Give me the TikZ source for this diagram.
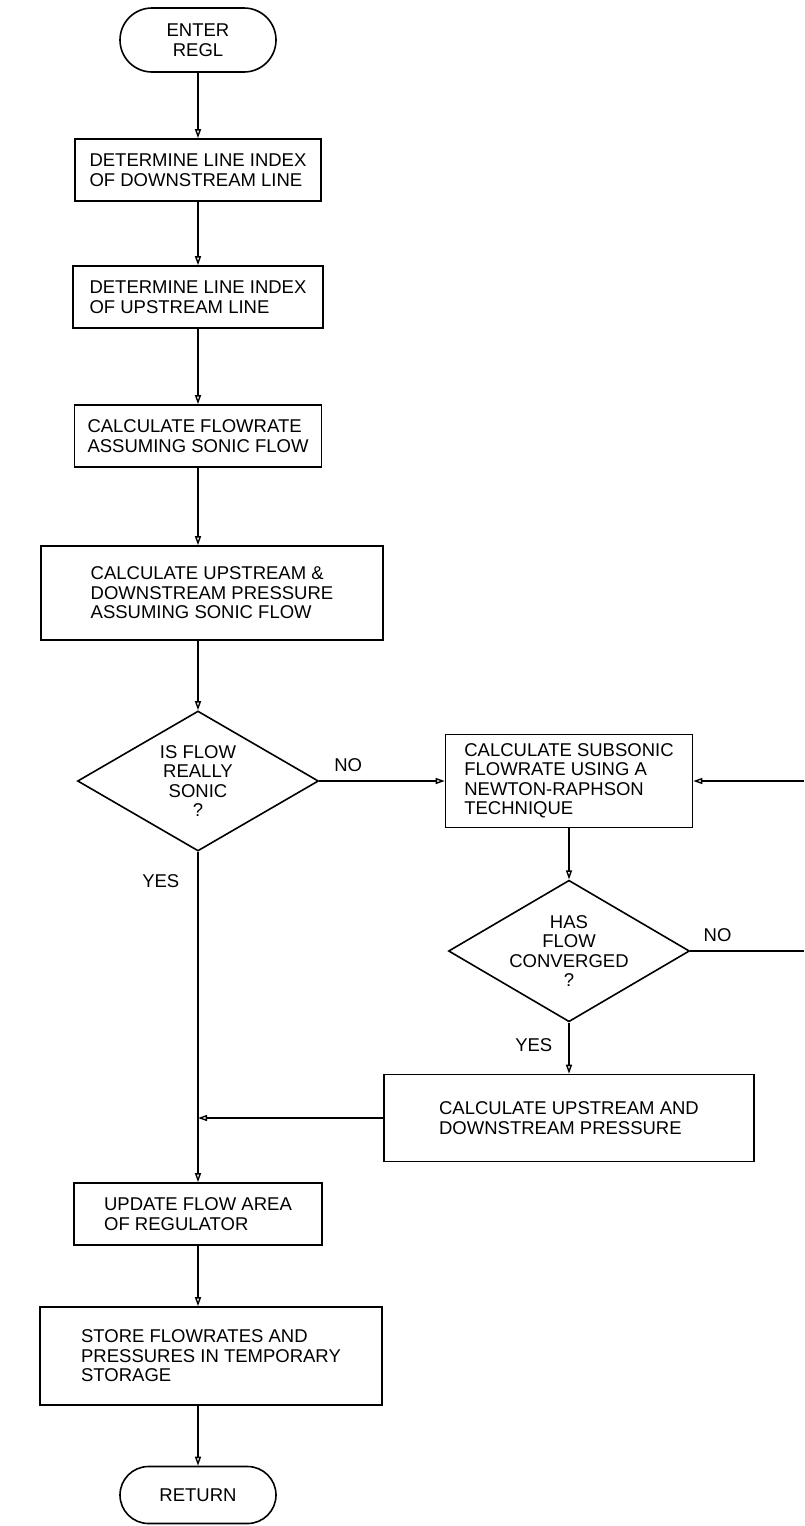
\documentclass[tikz,border=0pt]{standalone}
\usepackage{fontspec}
\setmainfont{Liberation Sans}
\usetikzlibrary{positioning,shapes.geometric,shapes.misc,arrows.meta}

\begin{document}
\begin{tikzpicture}[x=1pt,y=-1pt,
  font=\fontsize{18.5}{19.5}\selectfont,
  term/.style={draw,line width=1.6pt,rounded rectangle,minimum width=156pt,
               minimum height=64pt,align=center,inner sep=0pt},
  proc/.style={draw,line width=1.6pt,align=left,inner sep=0pt},
  dec/.style={draw,line width=1.6pt,diamond,aspect=1.7,inner sep=0pt,
              minimum width=241pt,minimum height=140pt,align=center},
  flow/.style={-{Triangle[open,length=9pt,width=6pt]},line width=1.4pt},
  wire/.style={line width=1.4pt},
  lbl/.style={inner sep=0pt}]
\useasboundingbox (0,0) rectangle (804,1526);

\node[term] (enter) at (198,40) {ENTER\\REGL};
\node[proc,minimum width=246pt,minimum height=62pt] (dline) at (198,170)
  {DETERMINE LINE INDEX\\OF DOWNSTREAM LINE};
\node[proc,minimum width=250pt,minimum height=62pt] (uline) at (198,297)
  {DETERMINE LINE INDEX\\OF UPSTREAM LINE};
\node[proc,minimum width=247pt,minimum height=62pt] (sonicq) at (198,436)
  {CALCULATE FLOWRATE\\ASSUMING SONIC FLOW};
\node[proc,minimum width=342pt,minimum height=94pt] (presq) at (212,593)
  {CALCULATE UPSTREAM \&\\DOWNSTREAM PRESSURE\\ASSUMING SONIC FLOW};
\node[dec] (flowq) at (198,781) {IS FLOW\\REALLY\\SONIC\\?};
\node[proc,minimum width=247pt,minimum height=93pt] (subsonic) at (569,781)
  {CALCULATE SUBSONIC\\FLOWRATE USING A\\NEWTON-RAPHSON\\TECHNIQUE};
\node[dec] (convq) at (569,951) {HAS\\FLOW\\CONVERGED\\?};
\node[proc,minimum width=370pt,minimum height=87pt] (updown) at (569,1118)
  {CALCULATE UPSTREAM AND\\DOWNSTREAM PRESSURE};
\node[proc,minimum width=248pt,minimum height=62pt] (area) at (198,1214)
  {UPDATE FLOW AREA\\OF REGULATOR};
\node[proc,minimum width=342pt,minimum height=98pt] (store) at (211,1356)
  {STORE FLOWRATES AND\\PRESSURES IN TEMPORARY\\STORAGE};
\node[term,minimum height=57pt] (ret) at (198,1495) {RETURN};
\coordinate (loopt) at (804,781);
\coordinate (loopb) at (804,951);

\foreach \a/\b in {enter/dline,dline/uline,uline/sonicq}
  \draw[flow] (\a.south) -- (\b.north);
\draw[flow] (sonicq.south) -- (sonicq.south |- presq.north);
\draw[flow] (flowq.north |- presq.south) -- (flowq.north);
\draw[flow] (flowq.east) -- node[lbl,pos=.23,above=9pt]{NO} (subsonic.west);
\draw[flow] (flowq.south) -- node[lbl,pos=.09,left=18pt]{YES} (area.north);
\draw[flow] (subsonic.south) -- (convq.north);
\draw[flow] (convq.south) -- node[lbl,pos=.45,left=16pt]{YES} (updown.north);
\draw[wire] (convq.east) -- node[lbl,pos=.24,above=9pt]{NO} (loopb);
\draw[flow] (loopt) -- (subsonic.east);
\draw[flow] (updown.west) -- (updown.west -| flowq.south);
\draw[flow] (area.south) -- (area.south |- store.north);
\draw[flow] (ret.north |- store.south) -- (ret.north);
\end{tikzpicture}
\end{document}
